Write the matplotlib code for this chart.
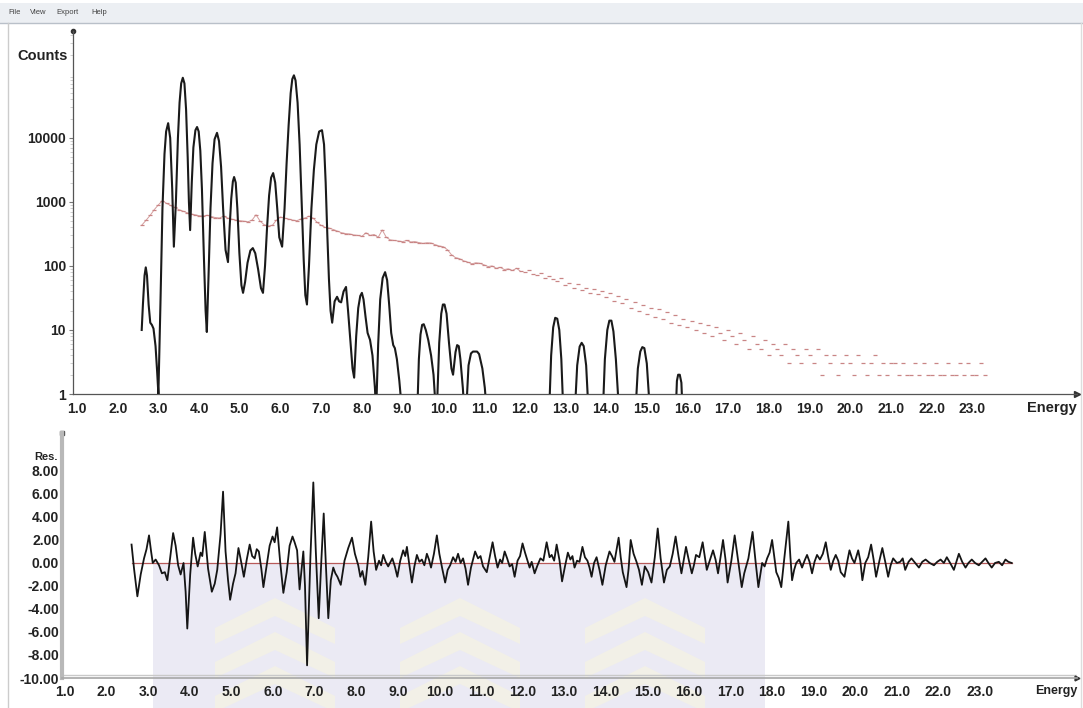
import numpy as np
import matplotlib
matplotlib.use("Agg")
import matplotlib.pyplot as plt
from matplotlib.patches import Rectangle, Polygon
from matplotlib.ticker import LogLocator, NullFormatter

W, H = 1083, 708

# fitted spectrum (energy in keV, counts); values below 1 fall under the axis
fit_energy = [
    2.59, 2.62, 2.66, 2.69, 2.72, 2.76, 2.80, 2.84, 2.88, 2.93, 2.97, 3.00,
    3.05, 3.10, 3.15, 3.19, 3.24, 3.29, 3.34, 3.38,
    3.43, 3.48, 3.52, 3.56, 3.60, 3.64, 3.68, 3.72, 3.75, 3.78,
    3.82, 3.86, 3.91, 3.95, 3.99, 4.03, 4.07, 4.12, 4.16, 4.19,
    4.23, 4.28, 4.33, 4.38, 4.44, 4.49, 4.54, 4.59, 4.65, 4.71,
    4.75, 4.79, 4.83, 4.86, 4.90, 4.94, 4.99, 5.04, 5.08,
    5.13, 5.19, 5.26, 5.32, 5.38, 5.45, 5.52, 5.57,
    5.62, 5.67, 5.72, 5.77, 5.82, 5.87, 5.92, 5.97, 6.04,
    6.10, 6.15, 6.20, 6.25, 6.29, 6.33, 6.37, 6.42, 6.47, 6.52, 6.57, 6.61, 6.65,
    6.70, 6.76, 6.82, 6.88, 6.95, 7.02, 7.07, 7.11, 7.15, 7.19, 7.23, 7.27,
    7.33, 7.39, 7.44, 7.49, 7.55, 7.61, 7.66, 7.72, 7.77, 7.81,
    7.86, 7.91, 7.96, 8.00, 8.04, 8.09, 8.14, 8.20, 8.26, 8.32, 8.35,
    8.40, 8.45, 8.51, 8.57, 8.62, 8.67, 8.72, 8.77, 8.81, 8.86, 8.92, 8.99,
    9.36, 9.40, 9.44, 9.48, 9.52, 9.57, 9.63, 9.70, 9.76, 9.82,
    9.84, 9.90, 9.95, 9.99, 10.03, 10.08, 10.14, 10.20, 10.24,
    10.30, 10.34, 10.38, 10.42, 10.48, 10.52,
    10.56, 10.62, 10.68, 10.73, 10.83, 10.88, 10.96, 11.02, 11.07,
    12.60, 12.65, 12.70, 12.75, 12.80, 12.85, 12.90, 12.95,
    13.23, 13.29, 13.35, 13.40, 13.45, 13.51, 13.57,
    13.92, 13.97, 14.03, 14.08, 14.13, 14.18, 14.24, 14.32,
    14.72, 14.78, 14.84, 14.89, 14.94, 15.00, 15.08,
    15.71, 15.74, 15.77, 15.81, 15.85, 15.88, 23.76,
]
fit_counts = [
    10, 25, 71, 95, 71, 25, 13, 12, 10.5, 5.6, 2.2, 1,
    25, 794, 5600, 12600, 17000, 10000, 1580, 200,
    1000, 10000, 35500, 71000, 87000, 71000, 28000, 5000, 1000, 363,
    2000, 7100, 13200, 14800, 12600, 6300, 1580, 126, 20, 9.3,
    63, 794, 4000, 9500, 12000, 8900, 3550, 794, 178, 115,
    400, 1120, 2090, 2450, 2000, 794, 158, 50, 38,
    56, 112, 174, 190, 158, 89, 45, 38,
    100, 400, 1260, 2400, 2820, 2000, 794, 280, 200,
    794, 4000, 15800, 50000, 83000, 95000, 79000, 35500, 7900, 1000, 126, 35, 25,
    100, 794, 3160, 7900, 12600, 13200, 7900, 2000, 316, 63, 20, 13,
    28, 33, 28, 27, 40, 47, 20, 6.3, 2.5, 1.8,
    8, 22, 34, 38, 30, 16, 9, 7, 4, 1.25, 0.5,
    6, 30, 65, 80, 60, 25, 9, 5.8, 5.2, 3.5, 1.6, 0.5,
    0.5, 3.5, 8.5, 12, 12.3, 10, 7, 4, 2, 0.5,
    0.5, 6.3, 18, 25, 25, 18, 6.3, 2.5, 2,
    4.5, 5.8, 5.6, 3.5, 1.25, 0.5,
    0.5, 2.8, 4.3, 4.6, 4.6, 4.2, 2.5, 1.25, 0.5,
    0.5, 4, 11, 15.5, 15, 10, 3.5, 0.5,
    0.5, 2.8, 5.5, 6.3, 5.6, 2.8, 0.5,
    0.5, 3.5, 10, 14, 14, 9.5, 3.5, 0.5,
    0.5, 2.5, 4.6, 5.4, 5.2, 3, 0.5,
    0.5, 1.6, 2, 2, 1.5, 0.5, 0.5,
]

# measured counts, one value every 0.1 keV from 2.6 keV
data_start = 2.6
data_counts = [
    440, 520, 620, 760, 900, 1050, 950, 880, 820, 760,
    720, 680, 650, 630, 610, 600, 620, 590, 570, 560,
    600, 560, 540, 520, 510, 500, 490, 520, 630, 500,
    440, 420, 430, 520, 580, 560, 540, 520, 510, 540,
    560, 600, 560, 480, 430, 400, 390, 370, 350, 330,
    320, 316, 305, 300, 290, 330, 300, 310, 280, 365,
    280, 255, 250, 245, 240, 250, 237, 240, 232, 225,
    230, 228, 215, 205, 200, 180, 150, 135, 130, 120,
    115, 108, 112, 110, 104, 98, 100, 92, 95, 88,
    90, 85, 92, 82, 80, 85, 76, 72, 78, 66,
    70, 62, 58, 64, 50, 55, 46, 52, 42, 45,
    38, 44, 36, 40, 33, 38, 28, 34, 26, 30,
    22, 27, 20, 25, 18, 22, 16, 21, 15, 19,
    13, 17, 12, 15, 11, 14, 10, 13, 9, 12,
    8, 11, 9, 7, 10, 8, 6, 9, 7, 5,
    8, 6, 5, 7, 4, 6, 5, 4, 6, 3,
    5, 4, 3, 5, 4, 3, 5, 2, 4, 3,
    4, 2, 3, 4, 3, 2, 4, 3, 2, 3,
    4, 2, 3, 2, 3, 3, 2, 3, 2, 2,
    3, 2, 3, 2, 2, 3, 2, 2, 3, 2,
    2, 3, 2, 3, 2, 2, 3, 2,
]
data_energy = [round(data_start + 0.1 * i, 2) for i in range(len(data_counts))]

# residuals of the fit
res_energy = [
    2.60, 2.66, 2.74, 2.82, 2.90, 2.96, 3.02, 3.07, 3.11, 3.18,
    3.26, 3.33, 3.40, 3.46, 3.53, 3.60, 3.66, 3.72, 3.78, 3.85,
    3.90, 3.94, 4.01, 4.08, 4.13, 4.19, 4.26, 4.30, 4.36, 4.44,
    4.53, 4.60, 4.66, 4.74, 4.80, 4.86, 4.92, 4.97, 5.04, 5.10,
    5.17, 5.23, 5.30, 5.37, 5.44, 5.50, 5.56, 5.61, 5.66, 5.72,
    5.77, 5.85, 5.92, 5.99, 6.04, 6.10, 6.17, 6.25, 6.33, 6.40,
    6.47, 6.52, 6.58, 6.64, 6.73, 6.77, 6.82, 6.90, 6.97, 7.03,
    7.10, 7.16, 7.22, 7.27, 7.33, 7.39, 7.45, 7.50, 7.55, 7.63,
    7.72, 7.81, 7.90, 7.97, 8.05, 8.10, 8.15, 8.22, 8.29, 8.36,
    8.42, 8.48, 8.55, 8.60, 8.65, 8.71, 8.77, 8.87, 8.93, 8.99,
    9.06, 9.13, 9.18, 9.22, 9.28, 9.34, 9.40, 9.46, 9.52, 9.58,
    9.64, 9.70, 9.75, 9.80, 9.87, 9.94, 10.00, 10.07, 10.14, 10.20,
    10.26, 10.33, 10.39, 10.45, 10.51, 10.57, 10.63, 10.69, 10.76, 10.81,
    10.86, 10.93, 10.99, 11.05, 11.14, 11.21, 11.28, 11.34, 11.40, 11.46,
    11.51, 11.57, 11.63, 11.69, 11.75, 11.81, 11.88, 11.94, 12.00, 12.06,
    12.11, 12.17, 12.22, 12.29, 12.36, 12.43, 12.50, 12.58, 12.65, 12.70,
    12.76, 12.82, 12.89, 12.95, 13.02, 13.09, 13.15, 13.20, 13.25, 13.31,
    13.37, 13.44, 13.50, 13.56, 13.61, 13.66, 13.72, 13.78, 13.85, 13.92,
    14.00, 14.09, 14.15, 14.21, 14.31, 14.36, 14.41, 14.50, 14.55, 14.60,
    14.67, 14.74, 14.80, 14.87, 14.94, 15.02, 15.10, 15.18, 15.25, 15.32,
    15.40, 15.47, 15.54, 15.61, 15.68, 15.75, 15.82, 15.93, 16.00, 16.07,
    16.12, 16.17, 16.25, 16.33, 16.38, 16.43, 16.50, 16.58, 16.64, 16.70,
    16.76, 16.82, 16.88, 16.93, 17.02, 17.10, 17.18, 17.27, 17.33, 17.43,
    17.53, 17.60, 17.67, 17.76, 17.82, 17.88, 17.94, 18.00, 18.05, 18.10,
    18.16, 18.22, 18.29, 18.39, 18.44, 18.48, 18.53, 18.58, 18.65, 18.72,
    18.78, 18.84, 18.90, 18.96, 19.02, 19.08, 19.15, 19.22, 19.29, 19.35,
    19.41, 19.47, 19.53, 19.59, 19.65, 19.74, 19.80, 19.86, 19.92, 19.98,
    20.07, 20.12, 20.17, 20.24, 20.31, 20.38, 20.44, 20.50, 20.58, 20.65,
    20.72, 20.79, 20.85, 20.91, 21.00, 21.08, 21.14, 21.20, 21.28, 21.35,
    21.44, 21.53, 21.61, 21.69, 21.79, 21.89, 21.97, 22.05, 22.13, 22.20,
    22.28, 22.37, 22.43, 22.49, 22.57, 22.65, 22.72, 22.80, 22.88, 22.97,
    23.05, 23.13, 23.20, 23.28, 23.36, 23.45, 23.53, 23.61, 23.68, 23.76,
]
res_value = [
    1.6, -0.5, -2.9, -1.0, 0.4, 1.2, 2.4, 1.0, 0.0, 0.3,
    -0.2, -0.9, -0.8, -1.5, 0.5, 2.6, 1.5, -0.2, -1.0, 0.0,
    -2.5, -5.7, -1.0, 2.2, 0.8, -0.3, 0.9, 0.6, 2.7, -0.5,
    -2.5, -1.8, -0.6, 2.5, 6.2, 1.0, -1.5, -3.2, -1.8, -0.9,
    1.3, 0.2, -1.2, 0.3, 1.6, 0.6, 0.4, 1.2, 1.0, -0.5,
    -2.1, -0.2, 1.5, 2.3, 1.8, 3.1, 0.2, -2.6, -0.8, 1.5,
    2.3, 1.8, 1.1, -2.3, 1.0, -2.0, -8.9, 0.5, 7.0, 1.0,
    -4.8, 0.0, 4.3, 0.0, -4.8, -1.5, -0.4, -0.9, -1.2, -1.9,
    0.2, 1.3, 2.2, 0.8, -0.2, -1.2, -0.7, -1.9, 0.5, 3.6,
    1.0, -0.6, 0.2, -0.2, 0.7, 0.1, -0.3, 0.4, -0.3, -1.2,
    0.2, 1.1, 0.6, 1.4, -0.2, -1.7, -0.3, 0.7, 0.1, 0.3,
    -0.2, 0.8, 0.3, -0.4, 0.8, 2.4, 0.8, -0.5, -1.7, -0.6,
    -0.2, 0.5, 0.1, 0.8, 0.0, 0.4, -0.5, -1.9, -0.4, 0.3,
    1.0, 0.4, 0.6, -0.3, -0.8, 0.5, 1.8, 0.6, -0.4, 0.3,
    0.0, 1.0, 0.4, -0.3, -0.1, -1.2, 0.2, 0.6, 1.7, 0.9,
    0.3, -0.4, 0.1, -0.9, -0.2, 0.4, 0.2, 1.8, 0.5, 0.7,
    0.2, 1.6, 0.2, -1.6, -0.3, 0.9, 0.3, 0.6, -0.4, 0.2,
    0.1, 1.4, 0.5, 0.2, -0.4, -1.2, 0.0, 0.5, -0.6, -1.9,
    -0.2, 1.0, 0.6, 0.1, 2.2, 0.5, -0.8, -2.1, -0.5, 2.0,
    0.8, 0.1, -0.6, -1.9, -0.3, -0.8, -1.7, 0.5, 3.0, 0.4,
    -1.7, -0.6, -0.3, 0.8, 2.3, 0.6, -0.9, 1.4, 0.2, -0.9,
    -0.2, 0.7, 0.5, 1.8, 0.6, -0.6, 0.2, 1.1, 0.3, -0.9,
    0.5, 2.0, 0.3, -1.7, 0.2, 2.4, 0.3, -2.1, -0.9, 0.4,
    2.7, 0.2, -2.1, 0.0, -0.3, 0.4, 0.9, 2.0, 0.6, -0.8,
    -1.3, -2.1, 0.3, 3.6, 0.5, -1.5, -0.6, 0.0, 0.3, -0.4,
    0.2, 0.7, 0.1, -0.9, 0.1, 0.7, 0.3, 0.8, 1.8, 0.5,
    -0.6, 0.2, 0.7, 0.2, -0.8, -1.2, 0.0, 1.1, 0.4, 0.0,
    1.1, 0.2, -1.5, 0.0, 0.5, 1.6, 0.3, -1.2, 0.2, 1.3,
    0.1, -1.2, -0.2, 0.4, 0.0, 0.1, 0.4, -0.6, 0.1, 0.4,
    0.0, -0.4, 0.1, 0.3, 0.0, -0.2, 0.1, 0.3, 0.0, 0.5,
    0.0, -0.6, 0.1, 0.8, 0.1, -0.4, 0.0, 0.3, 0.0, -0.2,
    0.1, 0.4, 0.0, -0.4, 0.0, 0.1, -0.2, 0.3, 0.1, 0.0,
]

energy_ticks = list(range(1, 24))
count_ticks = [1, 10, 100, 1000, 10000]
res_ticks = [-10, -8, -6, -4, -2, 0, 2, 4, 6, 8]

assert len(fit_energy) == len(fit_counts)
assert len(res_energy) == len(res_value)

plt.rcParams["font.family"] = ["Liberation Sans", "DejaVu Sans"]
plt.rcParams["font.weight"] = "bold"
TEXT = "#222222"
DATA_RED = "#c98585"


def px(x, y):
    """Pixel position (origin top-left) to figure fraction."""
    return (x / W, 1 - y / H)


fig = plt.figure(figsize=(W / 100, H / 100), dpi=100)
fig.patch.set_facecolor("white")

# window chrome: menu bar and frame
fig.add_artist(Rectangle(px(0, 23), 1, 20 / H, transform=fig.transFigure,
                         facecolor="#eceff3", edgecolor="none", zorder=-2))
fig.add_artist(plt.Line2D([0, 1], [1 - 23 / H] * 2, transform=fig.transFigure,
                          color="#b9c0c9", lw=1, zorder=-1))
fig.add_artist(plt.Line2D([8 / W] * 2, [0, 1 - 23 / H], transform=fig.transFigure,
                          color="#cccccc", lw=1, zorder=-1))
fig.add_artist(plt.Line2D([1081 / W] * 2, [0, 1 - 23 / H], transform=fig.transFigure,
                          color="#dddddd", lw=1, zorder=-1))
for label, x in [("File", 8), ("View", 30), ("Export", 56), ("Help", 91)]:
    fig.text(*px(x, 12), label, fontsize=5.5, fontweight="normal",
             color="#444444", va="center")

# faint watermark behind the residual panel
fig.add_artist(Rectangle(px(153, 708), (765 - 153) / W, (708 - 563) / H,
                         transform=fig.transFigure, facecolor="#ebeaf4",
                         edgecolor="none", zorder=-2))
for cx in [275, 460, 645]:
    for yt in [598, 632, 666]:
        pts = [(cx, yt), (cx + 60, yt + 30), (cx + 60, yt + 46), (cx, yt + 18),
               (cx - 60, yt + 46), (cx - 60, yt + 30)]
        fig.add_artist(Polygon([px(x, y) for x, y in pts], closed=True,
                               transform=fig.transFigure, facecolor="#f2f0e7",
                               edgecolor="none", zorder=-1.5))

# spectrum panel
ax1 = fig.add_axes([73 / W, 1 - 394 / H, (1077 - 73) / W, (394 - 31) / H])
ax1.set_facecolor("none")
ax1.set_yscale("log")
ax1.set_xlim(0.902, 25.57)
ax1.set_ylim(1, 10 ** 5.67)

# the dense low-energy part reads as a continuous noisy trace
n_dense = sum(1 for e in data_energy if e < 12.0)
ax1.plot(data_energy[:n_dense], data_counts[:n_dense], color=DATA_RED,
         lw=0.7, alpha=0.8, zorder=2)
ax1.plot(data_energy, data_counts, ls="none", marker="_", ms=3.2, mew=0.9,
         color=DATA_RED, zorder=2)
ax1.plot(fit_energy, fit_counts, color="#1a1a1a", lw=1.5, zorder=3)

for side in ["top", "right"]:
    ax1.spines[side].set_visible(False)
for side in ["left", "bottom"]:
    ax1.spines[side].set_color("#555555")
    ax1.spines[side].set_linewidth(0.9)
ax1.plot([0.902], [10 ** 5.67], marker="o", ms=3, color="#333333", clip_on=False)
ax1.plot([25.57], [1], marker=">", ms=4, color="#333333", clip_on=False)

ax1.set_xticks(energy_ticks)
ax1.set_xticklabels([f"{v:.1f}" for v in energy_ticks])
ax1.set_yticks(count_ticks)
ax1.set_yticklabels([str(v) for v in count_ticks])
ax1.yaxis.set_minor_locator(LogLocator(base=10, subs=np.arange(2, 10)))
ax1.yaxis.set_minor_formatter(NullFormatter())
ax1.tick_params(axis="x", length=0, pad=6, labelsize=10, labelcolor=TEXT)
ax1.tick_params(axis="y", which="major", length=3, width=0.8, color="#777777",
                pad=2, labelsize=10, labelcolor=TEXT)
ax1.tick_params(axis="y", which="minor", length=2, width=0.5, color="#bbbbbb")

fig.text(*px(68, 56), "Counts", fontsize=10.5, color=TEXT, ha="right", va="center")
fig.text(*px(1077, 408), "Energy", fontsize=10.5, color=TEXT, ha="right", va="center")

# residual panel
ax2 = fig.add_axes([62 / W, 1 - 678 / H, (1077 - 62) / W, (678 - 433) / H])
ax2.set_facecolor("none")
ax2.set_xlim(0.928, 25.33)
ax2.set_ylim(-10, 11.3)

ax2.plot([res_energy[0], res_energy[-1]], [0, 0], color="#b85a5a", lw=0.9, zorder=2)
ax2.plot(res_energy, res_value, color="#151515", lw=1.3, zorder=3)
ax2.axhline(-9.7, color="#c9c9c9", lw=1.0, zorder=1)

for side in ["top", "right"]:
    ax2.spines[side].set_visible(False)
ax2.spines["left"].set_color("#b8b8b8")
ax2.spines["left"].set_linewidth(3)
ax2.spines["bottom"].set_color("#a6a6a6")
ax2.spines["bottom"].set_linewidth(1.2)
ax2.plot([0.928], [11.3], marker="s", ms=2.5, color="#555555", clip_on=False)
ax2.plot([25.33], [-10], marker=">", ms=3.5, color="#333333", clip_on=False)

ax2.set_xticks(energy_ticks)
ax2.set_xticklabels([f"{v:.1f}" for v in energy_ticks])
ax2.set_yticks(res_ticks)
ax2.set_yticklabels([f"{v:.2f}" for v in res_ticks])
ax2.tick_params(axis="x", length=0, pad=5, labelsize=10, labelcolor=TEXT)
ax2.tick_params(axis="y", length=0, pad=2, labelsize=10, labelcolor=TEXT)

fig.text(*px(58, 457), "Res.", fontsize=8, color=TEXT, ha="right", va="center")
fig.text(*px(1078, 691), "Energy", fontsize=9, color=TEXT, ha="right", va="center")

fig.savefig("out.png", dpi=100)
